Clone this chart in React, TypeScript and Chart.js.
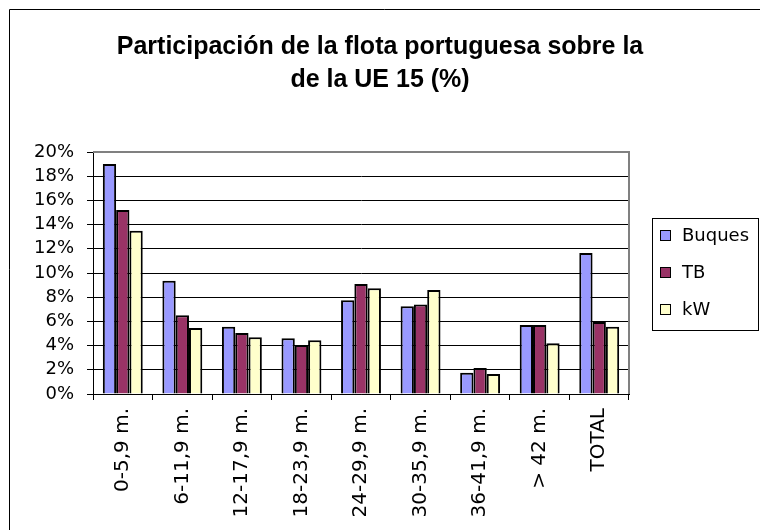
import React, { useEffect, useRef } from "react";
import { Chart, registerables } from "chart.js";

Chart.register(...registerables);

const categories = ["0-5,9 m.", "6-11,9 m.", "12-17,9 m.", "18-23,9 m.", "24-29,9 m.", "30-35,9 m.", "36-41,9 m.", "> 42 m.", "TOTAL"];
const buques = [19.0, 9.35, 5.55, 4.6, 7.75, 7.25, 1.75, 5.7, 11.65];
const tb = [15.2, 6.5, 5.05, 4.05, 9.1, 7.4, 2.15, 5.7, 5.95];
const kw = [13.5, 5.45, 4.7, 4.45, 8.75, 8.6, 1.65, 4.2, 5.55];
const seriesNames = ["Buques", "TB", "kW"];
const seriesColors = ["#9999FF", "#993366", "#FFFFCC"];
const titleLines = ["Participación de la flota portuguesa sobre la", "de la UE 15 (%)"];

const FONT = "'DejaVu Sans', sans-serif";

const decorPlugin = {
  id: "decor",
  afterDraw(chart: any) {
    const ctx = chart.ctx;
    const ca = chart.chartArea;
    ctx.save();
    // outer frame (top and left visible)
    ctx.strokeStyle = "#000";
    ctx.lineWidth = 1;
    ctx.beginPath();
    ctx.moveTo(9.5, 530);
    ctx.lineTo(9.5, 9.5);
    ctx.lineTo(760, 9.5);
    ctx.stroke();
    // plot area border top/right gray
    ctx.strokeStyle = "#808080";
    ctx.lineWidth = 2;
    ctx.beginPath();
    ctx.moveTo(ca.left, ca.top);
    ctx.lineTo(ca.right, ca.top);
    ctx.lineTo(ca.right, ca.bottom);
    ctx.stroke();
    // title
    ctx.fillStyle = "#000";
    ctx.font = "bold 25px 'Liberation Sans', Arial, sans-serif";
    ctx.textAlign = "center";
    ctx.textBaseline = "middle";
    ctx.fillText(titleLines[0], 380, 47);
    ctx.fillText(titleLines[1], 380, 80);
    // legend
    ctx.strokeStyle = "#000";
    ctx.lineWidth = 1;
    ctx.strokeRect(652.5, 218.5, 106, 112);
    ctx.font = "18px " + FONT;
    ctx.textAlign = "left";
    const ys = [236, 273, 310];
    chart.data.datasets.forEach((ds: any, i: number) => {
      const y = ys[i];
      ctx.fillStyle = ds.backgroundColor;
      ctx.fillRect(660.5, y - 5.5, 10, 10);
      ctx.strokeRect(660.5, y - 5.5, 10, 10);
      ctx.fillStyle = "#000";
      ctx.fillText(ds.label, 682, y);
    });
    ctx.restore();
  },
};

export default function App() {
  const ref = useRef<HTMLCanvasElement>(null);
  useEffect(() => {
    if (!ref.current) return;
    const chart = new Chart(ref.current, {
      type: "bar",
      data: {
        labels: categories,
        datasets: [buques, tb, kw].map((d, i) => ({
          label: seriesNames[i],
          data: d,
          backgroundColor: seriesColors[i],
          borderColor: "#000",
          borderWidth: 2,
          categoryPercentage: 0.67,
          barPercentage: 1.0,
        })),
      },
      options: {
        animation: false,
        responsive: false,
        devicePixelRatio: 1,
        layout: { padding: { top: 152, right: 131, left: 0, bottom: 0 } },
        plugins: {
          legend: { display: false },
          title: { display: false },
          tooltip: { enabled: false },
        },
        scales: {
          x: {
            grid: { drawOnChartArea: false, color: "#000", tickColor: "#000", tickLength: 6, offset: true },
            border: { color: "#000", width: 1 },
            ticks: {
              color: "#000",
              font: { family: FONT, size: 20 },
              minRotation: 90,
              maxRotation: 90,
              padding: 8,
              autoSkip: false,
            },
            afterFit(scale: any) {
              scale.height = 136;
            },
          },
          y: {
            min: 0,
            max: 20,
            grid: { color: "#000", tickColor: "#000", tickLength: 6 },
            border: { color: "#000", width: 1 },
            ticks: {
              stepSize: 2,
              autoSkip: false,
              color: "#000",
              font: { family: FONT, size: 18 },
              padding: 13,
              callback: (v: any) => v + "%",
            },
            afterFit(scale: any) {
              scale.width = 93;
            },
          },
        },
      },
      plugins: [decorPlugin],
    });
    return () => chart.destroy();
  }, []);
  return (
    <canvas
      ref={ref}
      width={760}
      height={530}
      style={{ position: "absolute", left: 0, top: 0, width: 760, height: 530 }}
    />
  );
}
